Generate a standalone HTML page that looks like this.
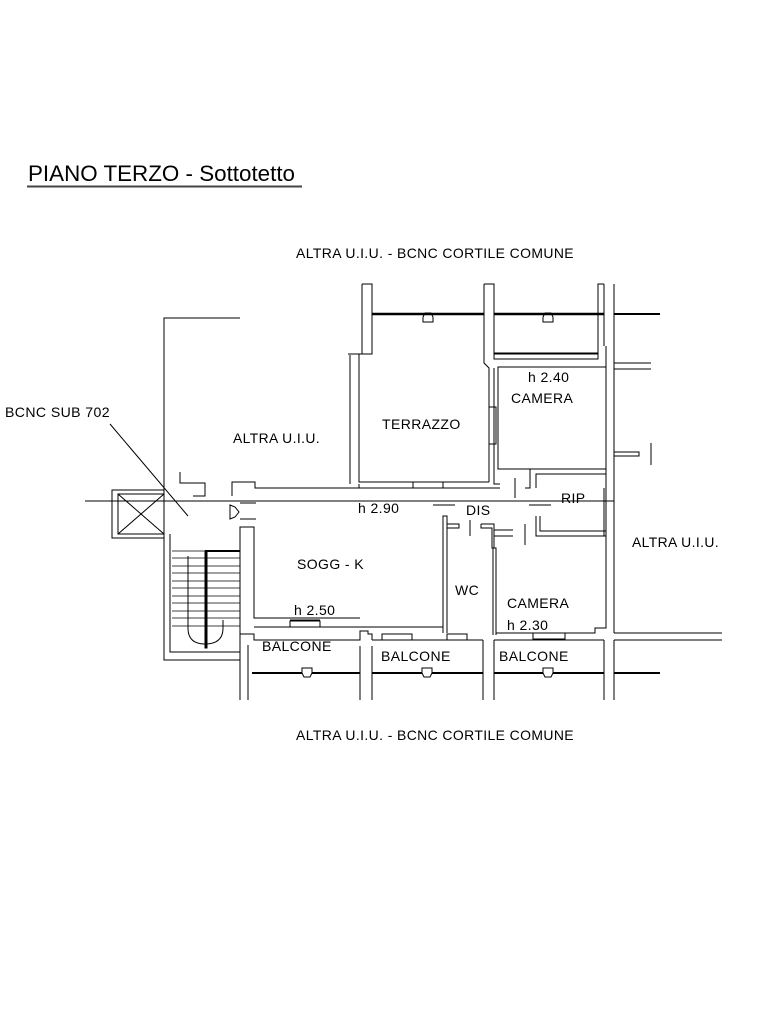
<!DOCTYPE html>
<html><head><meta charset="utf-8"><style>
html,body{margin:0;padding:0;background:#fff;width:768px;height:1024px;overflow:hidden}
svg{display:block}
text{font-family:"Liberation Sans",sans-serif;fill:#000}
</style></head><body>
<svg width="768" height="1024" viewBox="0 0 768 1024" xmlns="http://www.w3.org/2000/svg">
<g fill="none" stroke="#000" stroke-width="1">
<!-- title -->
<text x="28" y="181" font-size="22.5" stroke="none" textLength="267" lengthAdjust="spacingAndGlyphs">PIANO TERZO - Sottotetto</text>
<line x1="27" y1="186.5" x2="302" y2="186.5" stroke="#444" stroke-width="2"/>

<polyline points="240,318 164,318 164,490"/>
<line x1="85" y1="501" x2="614" y2="501"/>
<line x1="110" y1="424" x2="188" y2="516"/>

<rect x="112" y="490" width="52" height="48"/>
<rect x="118" y="494" width="46" height="40"/>
<line x1="118" y1="494" x2="164" y2="534"/>
<line x1="164" y1="494" x2="118" y2="534"/>
<polyline points="164,534 164,660 240,660"/>
<polyline points="170,534 170,652 240,652"/>
<g stroke-width="0.8">
<line x1="172" y1="551" x2="240" y2="551"/><line x1="172" y1="558" x2="240" y2="558"/>
<line x1="172" y1="566" x2="240" y2="566"/><line x1="172" y1="573" x2="240" y2="573"/>
<line x1="172" y1="581" x2="240" y2="581"/><line x1="172" y1="588" x2="240" y2="588"/>
<line x1="172" y1="596" x2="240" y2="596"/><line x1="172" y1="603" x2="240" y2="603"/>
<line x1="172" y1="611" x2="240" y2="611"/><line x1="172" y1="618" x2="240" y2="618"/>
<line x1="172" y1="626" x2="240" y2="626"/>
</g>
<rect x="205" y="551" width="2" height="97" fill="#000"/>
<line x1="205" y1="551" x2="240" y2="551" stroke-width="2"/>
<path d="M188,556 V628 Q188,644 205,644 Q223,644 223,628 V620"/>

<polyline points="240,700 240,527 254,527 254,618 290,618"/>
<polyline points="180,472 180,483 205,483 205,496 193,496"/>
<polyline points="232,496 232,482 255,482 255,488 359,488 359,484"/>
<path d="M230,505 l5,2 l4,5 l-4,5 l-5,2 z"/>
<line x1="240" y1="503" x2="256" y2="503"/><line x1="240" y1="519" x2="256" y2="519"/>

<polyline points="362,284 372,284 372,354 359,354 359,482 489,482"/>
<polyline points="348,354 362,354 362,284"/>
<polyline points="350,355 350,484"/>
<line x1="372" y1="314" x2="484" y2="314" stroke-width="2.5"/>
<line x1="494" y1="314" x2="604" y2="314" stroke-width="2.5"/>
<line x1="614" y1="314" x2="660" y2="314" stroke-width="2"/>
<path d="M423,322 h10 v-5 l-2,-4 h-6 l-2,4 z"/>
<path d="M543,322 h10 v-5 l-2,-4 h-6 l-2,4 z"/>
<polyline points="484,284 494,284 494,354 598,354 598,284 604,284"/>
<polyline points="484,284 484,363 489,368 489,482"/>
<rect x="494" y="353" width="104" height="6"/>
<rect x="489" y="407" width="7" height="37"/>
<polyline points="494,368 494,484 500,484"/>
<rect x="498" y="367" width="108" height="102"/>
<line x1="604" y1="284" x2="604" y2="346"/><line x1="614" y1="284" x2="614" y2="633"/>
<line x1="606" y1="346" x2="606" y2="469"/>
<line x1="614" y1="363" x2="651" y2="363"/><line x1="614" y1="369" x2="651" y2="369"/>
<rect x="614" y="452" width="25" height="4"/>
<line x1="651" y1="443" x2="651" y2="465"/>
<rect x="413" y="482" width="30" height="6"/>
<line x1="359" y1="488" x2="500" y2="488"/>

<polyline points="606,469 530,469 530,488 525,488"/>
<polyline points="606,474 536,474 536,488"/>
<line x1="515" y1="478" x2="515" y2="498"/>
<line x1="433" y1="505" x2="455" y2="505"/>
<line x1="529" y1="505" x2="551" y2="505"/>
<polyline points="540,516 540,531 606,531"/>
<polyline points="536,516 536,536 606,536"/>
<line x1="604" y1="488" x2="604" y2="536"/><line x1="606" y1="469" x2="606" y2="536"/>

<polyline points="443,633 443,516 447,516 447,633"/>
<polyline points="447,524 459,524 459,528 447,528"/>
<line x1="470" y1="520" x2="470" y2="536"/>
<polyline points="481,524 494,524 494,548 496,548 496,635"/>
<polyline points="481,524 481,528 492,528 492,548 493,548 493,635"/>
<line x1="494" y1="530" x2="513" y2="530"/><line x1="494" y1="536" x2="513" y2="536"/>
<line x1="525" y1="524" x2="525" y2="545"/>
<polyline points="606,536 606,628 595,628 595,633 496,633"/>
<line x1="254" y1="627" x2="443" y2="627"/>

<line x1="254" y1="618" x2="360" y2="618"/>
<polyline points="240,634 254,634 254,640 360,640 360,631 368,631 368,634 372,634 372,640"/>
<line x1="290" y1="620" x2="320" y2="620"/><rect x="290" y="621" width="30" height="6"/>
<rect x="382" y="634" width="30" height="6"/>
<rect x="447" y="634" width="20" height="6"/>
<rect x="533" y="633" width="32" height="6"/>
<line x1="372" y1="640" x2="483" y2="640"/>
<line x1="483" y1="640" x2="483" y2="700"/><line x1="494" y1="640" x2="494" y2="700"/>
<line x1="494" y1="640" x2="604" y2="640"/>
<line x1="614" y1="633" x2="722" y2="633"/><line x1="614" y1="640" x2="722" y2="640"/>
<line x1="604" y1="640" x2="604" y2="700"/><line x1="614" y1="640" x2="614" y2="700"/>
<line x1="248" y1="645" x2="248" y2="700"/>
<line x1="360" y1="646" x2="360" y2="700"/><line x1="372" y1="646" x2="372" y2="700"/>
<line x1="252" y1="673" x2="360" y2="673" stroke-width="2"/>
<line x1="372" y1="673" x2="483" y2="673" stroke-width="2"/>
<line x1="494" y1="673" x2="604" y2="673" stroke-width="2"/>
<line x1="614" y1="673" x2="660" y2="673" stroke-width="2"/>
<path d="M302,668 h10 v5 l-2,4 h-6 l-2,-4 z" fill="#fff"/>
<path d="M422,668 h10 v5 l-2,4 h-6 l-2,-4 z" fill="#fff"/>
<path d="M543,668 h10 v5 l-2,4 h-6 l-2,-4 z" fill="#fff"/>
</g>

<g font-size="14" stroke="none" letter-spacing="0.4">
<text x="296" y="258" textLength="278" lengthAdjust="spacingAndGlyphs">ALTRA U.I.U. - BCNC CORTILE COMUNE</text>
<text x="296" y="740" textLength="278" lengthAdjust="spacingAndGlyphs">ALTRA U.I.U. - BCNC CORTILE COMUNE</text>
<text x="5" y="417" textLength="105" lengthAdjust="spacingAndGlyphs">BCNC SUB 702</text>
<text x="233" y="443" textLength="87" lengthAdjust="spacingAndGlyphs">ALTRA U.I.U.</text>
<text x="382" y="429">TERRAZZO</text>
<text x="528" y="382">h 2.40</text>
<text x="511" y="403">CAMERA</text>
<text x="358" y="513" fill="#555">h 2.90</text>
<text x="466" y="515">DIS</text>
<text x="561" y="503">RIP</text>
<text x="632" y="547" textLength="87" lengthAdjust="spacingAndGlyphs">ALTRA U.I.U.</text>
<text x="297" y="569">SOGG - K</text>
<text x="455" y="595">WC</text>
<text x="507" y="608">CAMERA</text>
<text x="507" y="630">h 2.30</text>
<text x="294" y="615">h 2.50</text>
<text x="262" y="651">BALCONE</text>
<text x="381" y="661">BALCONE</text>
<text x="499" y="661">BALCONE</text>
</g>
</svg>
</body></html>
